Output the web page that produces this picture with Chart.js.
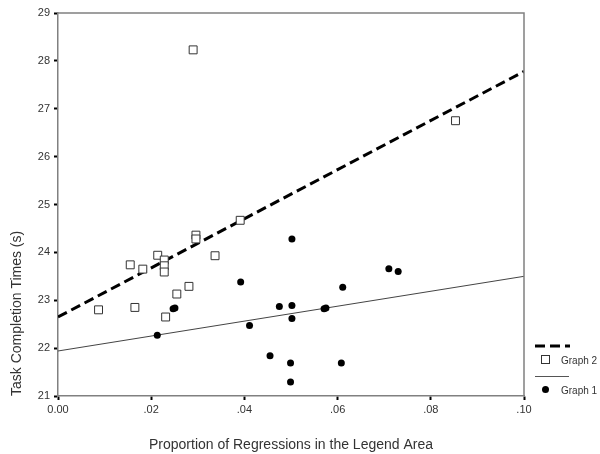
<!DOCTYPE html>
<html>
<head>
<meta charset="utf-8">
<script src="https://cdn.jsdelivr.net/npm/chart.js@4"></script>
<style>
  html, body { margin: 0; padding: 0; background: #fff; }
  #wrap { width: 600px; height: 454px; }
</style>
</head>
<body>
<div id="wrap"><canvas id="chart" width="600" height="454"></canvas></div>
<script>
// values
const graph2X = [0.0087, 0.0155, 0.0165, 0.0182, 0.0214, 0.0228, 0.0228, 0.0228, 0.0231, 0.0255, 0.0281, 0.0290, 0.0296, 0.0296, 0.0337, 0.0391, 0.0853];
const graph2Y = [22.80, 23.74, 22.85, 23.65, 23.94, 23.84, 23.72, 23.59, 22.65, 23.13, 23.29, 28.23, 24.36, 24.28, 23.93, 24.67, 26.75];

const graph1X = [0.0213, 0.0247, 0.0251, 0.0392, 0.0411, 0.0455, 0.0475, 0.0502, 0.0502, 0.0502, 0.0499, 0.0499, 0.0571, 0.0575, 0.0611, 0.0608, 0.0710, 0.0730];
const graph1Y = [22.27, 22.82, 22.84, 23.38, 22.47, 21.84, 22.87, 24.28, 22.89, 22.62, 21.69, 21.29, 22.82, 22.84, 23.27, 21.69, 23.66, 23.60];

// fit lines, ends at x = 0 and x = .10
const fitX = [0, 0.10];
const fit2Y = [22.65, 27.78];
const fit1Y = [21.94, 23.50];

const xTicks = [0, 0.02, 0.04, 0.06, 0.08, 0.10];
const xTickLabels = ['0.00', '.02', '.04', '.06', '.08', '.10'];

function pts(xs, ys) {
  return xs.map((x, i) => ({ x: x, y: ys[i] }));
}

const legendPlugin = {
  id: 'sideLegend',
  afterDraw(chart) {
    const c = chart.ctx;
    const a = chart.chartArea;
    c.save();
    // frame top and right
    c.strokeStyle = '#808080';
    c.lineWidth = 1.5;
    c.beginPath();
    c.moveTo(a.left, a.top);
    c.lineTo(a.right, a.top);
    c.lineTo(a.right, a.bottom);
    c.stroke();

    // legend
    c.strokeStyle = '#000';
    c.lineWidth = 3;
    c.setLineDash([10, 5]);
    c.beginPath();
    c.moveTo(535, 346);
    c.lineTo(570, 346);
    c.stroke();
    c.setLineDash([]);

    c.lineWidth = 1;
    c.strokeStyle = '#333';
    c.fillStyle = '#fff';
    c.fillRect(541.5, 355.5, 8, 8);
    c.strokeRect(541.5, 355.5, 8, 8);

    c.strokeStyle = '#555';
    c.beginPath();
    c.moveTo(535, 376.5);
    c.lineTo(569, 376.5);
    c.stroke();

    c.fillStyle = '#000';
    c.beginPath();
    c.arc(545.5, 389.5, 3.5, 0, Math.PI * 2);
    c.fill();

    c.fillStyle = '#333';
    c.font = '10px "Liberation Sans", Arial, sans-serif';
    c.textBaseline = 'middle';
    c.textAlign = 'left';
    c.fillText('Graph 2', 561, 361);
    c.fillText('Graph 1', 561, 391);
    c.restore();
  }
};

const ctx = document.getElementById('chart').getContext('2d');

new Chart(ctx, {
  type: 'scatter',
  data: {
    datasets: [
      {
        label: 'Graph 2',
        data: pts(graph2X, graph2Y),
        pointStyle: 'rect',
        pointRadius: 5.6,
        backgroundColor: '#fff',
        borderColor: '#333',
        borderWidth: 1,
        order: 1
      },
      {
        label: 'Graph 1',
        data: pts(graph1X, graph1Y),
        pointStyle: 'circle',
        pointRadius: 3.5,
        backgroundColor: '#000',
        borderColor: '#000',
        borderWidth: 0,
        order: 0
      },
      {
        type: 'line',
        label: 'fit 2',
        data: pts(fitX, fit2Y),
        borderColor: '#000',
        borderWidth: 3,
        borderDash: [10, 5],
        pointRadius: 0,
        fill: false,
        order: 3
      },
      {
        type: 'line',
        label: 'fit 1',
        data: pts(fitX, fit1Y),
        borderColor: '#444',
        borderWidth: 1,
        pointRadius: 0,
        fill: false,
        order: 3
      }
    ]
  },
  options: {
    responsive: false,
    animation: false,
    layout: { padding: { left: 0, top: 13, right: 76, bottom: 0 } },
    plugins: {
      legend: { display: false },
      tooltip: { enabled: false }
    },
    scales: {
      x: {
        type: 'linear',
        min: 0,
        max: 0.10,
        afterBuildTicks(scale) {
          scale.ticks = xTicks.map(v => ({ value: v }));
        },
        afterFit(scale) { scale.height = 58; },
        border: { color: '#808080', width: 1.5 },
        grid: { drawOnChartArea: false, drawTicks: true, tickLength: 4, tickColor: '#000', tickWidth: 2 },
        ticks: {
          padding: 3,
          color: '#333',
          font: { family: '"Liberation Sans", Arial, sans-serif', size: 11 },
          callback(v) {
            const i = xTicks.findIndex(t => Math.abs(t - v) < 1e-9);
            return i >= 0 ? xTickLabels[i] : '';
          }
        },
        title: {
          display: true,
          text: 'Proportion of Regressions in the Legend Area',
          color: '#333',
          padding: 0,
          font: { family: '"Liberation Sans", Arial, sans-serif', size: 14 }
        }
      },
      y: {
        min: 21,
        max: 29,
        afterFit(scale) { scale.width = 58; },
        border: { color: '#808080', width: 1.5 },
        grid: { drawOnChartArea: false, drawTicks: true, tickLength: 4, tickColor: '#000', tickWidth: 2 },
        ticks: {
          stepSize: 1,
          padding: 4,
          color: '#333',
          font: { family: '"Liberation Sans", Arial, sans-serif', size: 11 }
        },
        title: {
          display: true,
          text: 'Task Completion Times (s)',
          align: 'start',
          color: '#333',
          padding: { top: 9, bottom: 0 },
          font: { family: '"Liberation Sans", Arial, sans-serif', size: 14 }
        }
      }
    }
  },
  plugins: [legendPlugin]
});
</script>
</body>
</html>
